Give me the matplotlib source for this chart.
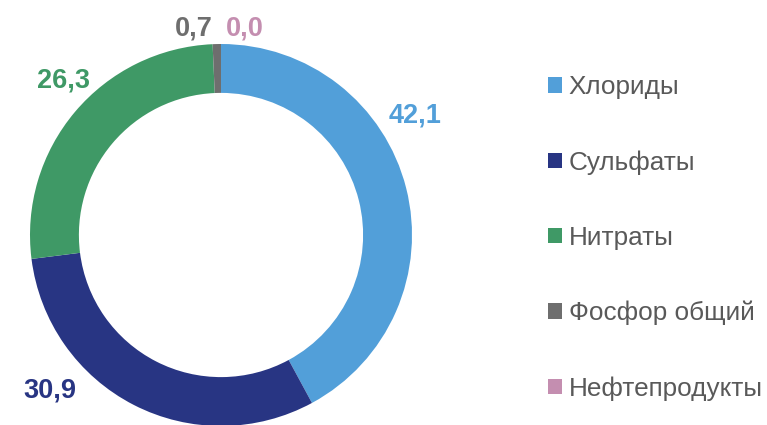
import matplotlib.pyplot as plt

plt.rcParams['font.family'] = ['Liberation Sans', 'DejaVu Sans']

# data
categories = ['Хлориды', 'Сульфаты', 'Нитраты', 'Фосфор общий', 'Нефтепродукты']
values = [42.1, 30.9, 26.3, 0.7, 0.0]
value_labels = ['42,1', '30,9', '26,3', '0,7', '0,0']
colors = ['#529FD9', '#283583', '#3F9966', '#6E6E6E', '#C48EB0']

# where the value labels sit (in units of the outer radius)
label_pos = [(1.016, 0.639), (-0.895, -0.796), (-0.827, 0.827),
             (-0.141, 1.099), (0.126, 1.099)]

fig = plt.figure(figsize=(7.67, 4.25), dpi=100)
W, H = 767, 425
cx, cy, R = 221, 235, 191
ax = fig.add_axes([(cx - R) / W, (H - cy - R) / H, 2 * R / W, 2 * R / H])

wedges, _ = ax.pie(values, colors=colors, startangle=90, counterclock=False,
                   radius=1, wedgeprops=dict(width=0.256, linewidth=0))
ax.set_xlim(-1, 1)
ax.set_ylim(-1, 1)
ax.set_aspect('equal')
ax.axis('off')

for (x, y), txt, c in zip(label_pos, value_labels, colors):
    ax.text(x, y, txt, color=c, fontsize=19.5, fontweight='bold',
            ha='center', va='center_baseline', clip_on=False)

fig.legend(wedges, categories, loc='center left',
           bbox_to_anchor=(548 / W, 1 - 238 / H), frameon=False,
           fontsize=18.8, labelcolor='#595959', borderpad=0, borderaxespad=0,
           handlelength=0.54, handleheight=0.54, handletextpad=0.25,
           labelspacing=1.95)

fig.savefig('out.png', dpi=100)
